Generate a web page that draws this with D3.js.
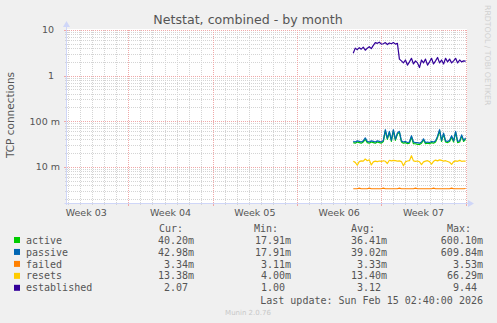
<!DOCTYPE html>
<html><head><meta charset="utf-8">
<script src="https://cdn.jsdelivr.net/npm/d3@7"></script>
<style>
body{margin:0;background:#f0f0f0}
svg{display:block}
text{white-space:pre}
</style>
</head><body>
<svg id="chart" width="497" height="323"></svg>
<script>
// ---------- data ----------
const title = "Netstat, combined - by month";
const yLabel = "TCP connections";
const seriesNames = ["active", "passive", "failed", "resets", "established"];
const seriesColors = ["#00cc00", "#0066b3", "#ff8000", "#ffcc00", "#330099"];
const xStart = new Date(2026, 0, 12, 20, 40);
const xEnd = new Date(2026, 1, 15, 2, 40);
const dataStart = new Date(2026, 1, 5, 16, 0);
const stepHours = 4;
const weekLabels = ["Week 03", "Week 04", "Week 05", "Week 06", "Week 07"];
const yTickValues = [10, 1, 0.1, 0.01];
const yTickLabels = ["10", "1", "100 m", "10 m"];

// values in milli-connections for the small series
const activeM = [34,33,35,34,33,35,40,34,33,35,34,33,35,34,33,36,62,40,57,36,62,38,52,57,35,33,34,32,33,45,32,32,31,31,33,39,32,33,32,34,33,35,44,62,36,52,35,34,36,45,35,57,34,35,47,36,40];
const passiveM = [36,35,37,36,35,37,43,36,35,37,36,35,37,36,35,38,65,42,60,38,65,40,55,60,37,35,36,34,35,48,35,34,34,33,35,41,34,35,34,36,35,37,47,65,38,55,37,36,38,48,37,60,36,37,50,38,43];
const failedM = [3.3,3.3,3.3,3.4,3.3,3.3,3.3,3.3,3.4,3.3,3.3,3.3,3.3,3.3,3.3,3.4,3.3,3.3,3.3,3.3,3.3,3.3,3.3,3.4,3.3,3.3,3.3,3.3,3.3,3.3,3.3,3.4,3.3,3.3,3.3,3.3,3.3,3.3,3.3,3.3,3.4,3.3,3.3,3.3,3.3,3.3,3.3,3.3,3.3,3.4,3.3,3.3,3.3,3.3,3.3,3.3,3.34];
const resetsM = [13.2,12.5,10.8,13.0,13.5,13.3,14.8,13.6,14.2,11.0,12.8,13.3,13.0,13.4,13.1,13.6,13.2,11.8,13.9,13.5,13.8,13.6,13.3,13.5,13.0,10.5,12.8,13.4,13.6,17.5,13.5,13.2,13.4,12.9,11.2,12.8,13.3,13.6,13.0,11.4,13.2,14.0,13.5,14.2,13.8,13.3,13.6,13.1,12.6,11.3,13.0,13.5,13.2,13.8,13.2,13.4,13.38];
const established = [3.1,4.0,3.7,4.1,3.8,4.2,3.6,4.0,4.3,3.9,4.6,5.3,5.1,5.4,4.9,5.0,5.3,4.8,5.2,5.0,5.3,4.9,5.1,2.3,2.1,1.9,2.2,1.7,2.0,2.4,1.8,2.1,1.9,1.5,2.2,1.9,2.3,1.7,2.0,2.4,1.8,2.1,2.5,1.9,2.2,1.8,2.4,2.0,2.3,1.9,2.1,2.4,1.9,2.2,2.0,2.1,2.07];

const legendHeaders = ["Cur:", "Min:", "Avg:", "Max:"];
const legendCur = ["40.20m", "42.98m", "3.34m", "13.38m", "2.07 "];
const legendMin = ["17.91m", "17.91m", "3.11m", "4.00m", "1.00 "];
const legendAvg = ["36.41m", "39.02m", "3.33m", "13.40m", "3.12 "];
const legendMax = ["600.10m", "609.84m", "3.53m", "66.29m", "9.44 "];
const lastUpdate = "Last update: Sun Feb 15 02:40:00 2026";
const footer = "Munin 2.0.76";
const watermark = "RRDTOOL / TOBI OETIKER";

// ---------- layout ----------
const L = 66.5, R = 467, T = 30, B = 203;
const svg = d3.select("#chart");
const textCol = "#555";
const axisCol = "#cfd6f8";
const minorCol = "#d4d4d4";
const majorCol = "#f0a8a8";

const x = d3.scaleTime().domain([xStart, xEnd]).range([L, R]);
const y = d3.scaleLog().domain([0.001607, 10]).range([B, T]);

svg.append("rect").attr("width", 497).attr("height", 323).attr("fill", "#f0f0f0");
svg.append("rect").attr("x", L).attr("y", T - 1).attr("width", R - L).attr("height", B - T + 1).attr("fill", "#fff");

// grid
const gGrid = svg.append("g").attr("shape-rendering", "crispEdges");
const days = d3.timeDay.range(d3.timeDay.ceil(xStart), xEnd).filter(d => d.getDay() !== 0);
const sundays = d3.timeSunday.range(xStart, xEnd);
const pxr = v => Math.round(v) + 0.5;

const minors = [];
for (let e = -3; e <= 0; e++) for (let k = 2; k <= 9; k++) {
  const v = k * Math.pow(10, e);
  if (v >= y.domain()[0] && v < 10) minors.push(v);
}
gGrid.selectAll(".hmin").data(minors).join("line")
  .attr("x1", L).attr("x2", R).attr("y1", d => pxr(y(d))).attr("y2", d => pxr(y(d)))
  .attr("stroke", minorCol).attr("stroke-dasharray", "1,1");
gGrid.selectAll(".hminT").data(minors).join("line")
  .attr("x1", L - 2).attr("x2", L).attr("y1", d => pxr(y(d))).attr("y2", d => pxr(y(d)))
  .attr("stroke", minorCol);
gGrid.selectAll(".vmin").data(days).join("line")
  .attr("x1", d => pxr(x(d))).attr("x2", d => pxr(x(d))).attr("y1", T).attr("y2", B)
  .attr("stroke", minorCol).attr("stroke-dasharray", "1,1");
gGrid.selectAll(".vminT").data(days).join("line")
  .attr("x1", d => pxr(x(d))).attr("x2", d => pxr(x(d))).attr("y1", B).attr("y2", B + 2)
  .attr("stroke", minorCol);
gGrid.selectAll(".hmaj").data(yTickValues).join("line")
  .attr("x1", L).attr("x2", R).attr("y1", d => pxr(y(d))).attr("y2", d => pxr(y(d)))
  .attr("stroke", majorCol).attr("stroke-dasharray", "1,1");
gGrid.selectAll(".hmajT").data(yTickValues).join("line")
  .attr("x1", L - 3).attr("x2", L).attr("y1", d => pxr(y(d))).attr("y2", d => pxr(y(d)))
  .attr("stroke", majorCol);
gGrid.selectAll(".vmaj").data(sundays).join("line")
  .attr("x1", d => pxr(x(d))).attr("x2", d => pxr(x(d))).attr("y1", T).attr("y2", B)
  .attr("stroke", majorCol).attr("stroke-dasharray", "1,1");
gGrid.selectAll(".vmajT").data(sundays).join("line")
  .attr("x1", d => pxr(x(d))).attr("x2", d => pxr(x(d))).attr("y1", B).attr("y2", B + 3)
  .attr("stroke", majorCol);

// series
const timeAt = i => d3.timeHour.offset(dataStart, i * stepHours);
const series = [
  activeM.map(v => v / 1000),
  passiveM.map(v => v / 1000),
  failedM.map(v => v / 1000),
  resetsM.map(v => v / 1000),
  established
];
const line = d3.line().x((d, i) => x(timeAt(i))).y(d => y(d));
series.forEach((s, k) => {
  svg.append("path").datum(s).attr("d", line)
    .attr("fill", "none").attr("stroke", seriesColors[k]).attr("stroke-width", 1.2)
    .attr("stroke-linejoin", "round");
});

// axes
const gAx = svg.append("g");
gAx.append("line").attr("x1", L - 2).attr("x2", R + 3).attr("y1", B + 0.5).attr("y2", B + 0.5).attr("stroke", axisCol);
gAx.append("line").attr("x1", L).attr("x2", L).attr("y1", B + 2).attr("y2", T - 4).attr("stroke", axisCol);
gAx.append("path").attr("d", `M${R + 7},${B + 0.5} L${R + 1},${B - 3} L${R + 1},${B + 4} Z`).attr("fill", axisCol);
gAx.append("path").attr("d", `M${L},${T - 9} L${L - 3.5},${T - 3} L${L + 3.5},${T - 3} Z`).attr("fill", axisCol);

// tick labels
svg.selectAll(".yl").data(yTickValues).join("text")
  .attr("x", (d, i) => yTickLabels[i].endsWith("m") ? 60 : 54)
  .attr("y", d => y(d)).attr("dy", "0.36em")
  .attr("text-anchor", "end").attr("font-family", "DejaVu Sans").attr("font-size", 9.5)
  .attr("fill", textCol).text((d, i) => yTickLabels[i]);

const weekMids = d3.timeSunday.range(d3.timeSunday.floor(xStart), xEnd)
  .map(d => new Date(+d + 3.5 * 86400000)).slice(0, weekLabels.length);
svg.selectAll(".xl").data(weekMids).join("text")
  .attr("x", d => x(d)).attr("y", 215.8)
  .attr("text-anchor", "middle").attr("font-family", "DejaVu Sans").attr("font-size", 9.5)
  .attr("fill", textCol).text((d, i) => weekLabels[i]);

// title & labels
svg.append("text").attr("x", 248).attr("y", 23.5).attr("text-anchor", "middle")
  .attr("font-family", "DejaVu Sans").attr("font-size", 12.6).attr("fill", textCol).text(title);
svg.append("text").attr("transform", "translate(10,115) rotate(-90)")
  .attr("text-anchor", "middle").attr("dy", "0.35em")
  .attr("font-family", "DejaVu Sans").attr("font-size", 10.5).attr("fill", textCol).text(yLabel);
svg.append("text").attr("transform", "translate(485,5) rotate(90)")
  .attr("font-family", "DejaVu Sans").attr("font-size", 7.8).attr("fill", "#d0d0d0").text(watermark);

// legend
const mono = "DejaVu Sans Mono";
const lg = svg.append("g").attr("font-family", mono).attr("font-size", 10).attr("fill", textCol);
const headerX = [159, 254, 351, 447];
legendHeaders.forEach((h, i) => lg.append("text").attr("x", headerX[i]).attr("y", 231.8).text(h));
const colRight = [194, 291, 387, 483];
const cols = [legendCur, legendMin, legendAvg, legendMax];
seriesNames.forEach((name, r) => {
  const cy = 240 + r * 11.95;
  svg.append("rect").attr("x", 14).attr("y", cy - 3).attr("width", 6).attr("height", 6).attr("fill", seriesColors[r]);
  lg.append("text").attr("x", 26).attr("y", cy + 3.6).text(name);
  cols.forEach((c, j) => lg.append("text").attr("x", colRight[j]).attr("y", cy + 3.6)
    .attr("text-anchor", "end").text(c[r]));
});
lg.append("text").attr("x", 483).attr("y", 303.5).attr("text-anchor", "end").text(lastUpdate);
svg.append("text").attr("x", 248).attr("y", 315).attr("text-anchor", "middle")
  .attr("font-family", "DejaVu Sans").attr("font-size", 7).attr("fill", "#c8c8c8").text(footer);
</script>
</body></html>
